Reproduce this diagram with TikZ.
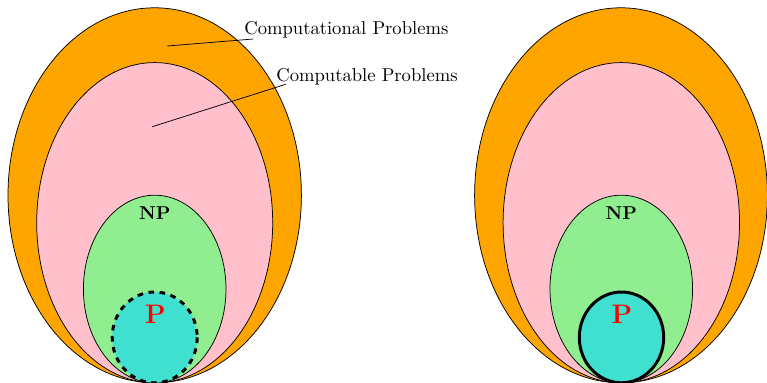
\documentclass[tikz,border=0pt]{standalone}
\definecolor{corange}{HTML}{FFA500}
\definecolor{cpink}{HTML}{FFC0CB}
\definecolor{cgreen}{HTML}{90EE90}
\definecolor{cturq}{HTML}{40E0D0}
\begin{document}
\begin{tikzpicture}[x=0.5376pt,y=-0.5376pt,
  region/.style={draw=black, line width=0.4pt},
  pclass/.style={draw=black, line width=1.6pt, fill=cturq},
  lbl/.style={anchor=base west, inner sep=0pt},
  classname/.style={anchor=base, inner sep=0pt, font=\bfseries},
  pname/.style={anchor=base, inner sep=0pt, font=\Large\bfseries, text=red},
  leader/.style={draw=black, line width=0.4pt}]
\useasboundingbox (0,0) rectangle (767,383);
% left diagram
\path[region, fill=corange] (154.7,195.3) ellipse [x radius=146.7, y radius=187.5];
\path[region, fill=cpink] (154.7,222.7) ellipse [x radius=118, y radius=160.1];
\path[region, fill=cgreen] (154.7,289) ellipse [x radius=71.3, y radius=93.8];
\path[pclass, dashed] (154.7,337.4) ellipse [x radius=42.5, y radius=45.4];
\node[classname] (npL) at (154.7,220) {NP};
\node[pname] (pL) at (155.5,323.3) {P};
% labels
\node[lbl] (lab1) at (244,34.3) {Computational Problems};
\node[lbl] (lab2) at (276,81.7) {Computable Problems};
\coordinate (in1) at (167.3,46);
\coordinate (end1) at (253.3,39);
\coordinate (in2) at (152.3,126.7);
\coordinate (end2) at (285.7,84.3);
\draw[leader] (in1) -- (end1);
\draw[leader] (in2) -- (end2);
% right diagram
\path[region, fill=corange] (621,195.3) ellipse [x radius=146.4, y radius=187.5];
\path[region, fill=cpink] (621.3,222.7) ellipse [x radius=118.2, y radius=160.1];
\path[region, fill=cgreen] (621.3,289) ellipse [x radius=71.3, y radius=93.8];
\path[pclass] (621.5,337.4) ellipse [x radius=42.2, y radius=45.4];
\node[classname] (npR) at (621.3,220) {NP};
\node[pname] (pR) at (622,323.3) {P};
\end{tikzpicture}
\end{document}
